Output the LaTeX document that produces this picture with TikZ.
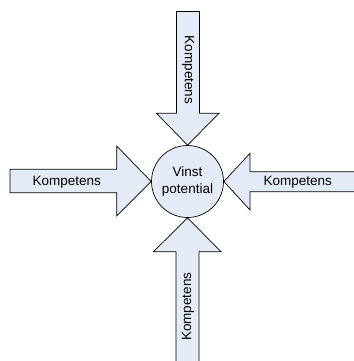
\documentclass[tikz,border=0pt]{standalone}
\usepackage{fontspec}
\setmainfont{Liberation Sans}
\definecolor{arrowfill}{RGB}{229,235,246}
\tikzset{blockarrow/.style = {draw=black, fill=arrowfill, line width=.7pt, line join=miter},
  label/.style = {font=\fontsize{13.5}{17}\selectfont, inner sep=0pt}}

\begin{document}
\begin{tikzpicture}[x=1pt, y=-1pt]
      \useasboundingbox (0,0) rectangle (353,361);
      \node [circle, blockarrow, minimum size=72pt, inner sep=0pt, align=center,
        font=\fontsize{13.5}{17}\selectfont] (vinst) at (187.5,181.5) {Vinst\\potential};
      % arrows towards the circle
      \draw [blockarrow] (176.5,11.5) -- (176.5,113.3) -- (156.5,113.3) -- (vinst.north)
        -- (219,113.3) -- (199.5,113.3) -- (199.5,11.5) -- cycle;
      \draw [blockarrow] (10,169.3) -- (116.7,169.3) -- (116.7,146) -- (vinst.west)
        -- (116.7,216) -- (116.7,192.7) -- (10,192.7) -- cycle;
      \draw [blockarrow] (356,171.7) -- (250,171.7) -- (250,153.3) -- (vinst.east)
        -- (250,210) -- (250,191.7) -- (356,191.7);
      \draw [blockarrow] (176,364) -- (176,251.7) -- (153.5,251.7) -- (vinst.south)
        -- (221,251.7) -- (199,251.7) -- (199,364);
      \node [label, rotate=-90] (top) at (188,70) {Kompetens};
      \node [label] (left) at (66.7,182.5) {Kompetens};
      \node [label] (right) at (297.7,182.5) {Kompetens};
      \node [label, rotate=90] (bottom) at (188,306.7) {Kompetens};
\end{tikzpicture}
\end{document}
